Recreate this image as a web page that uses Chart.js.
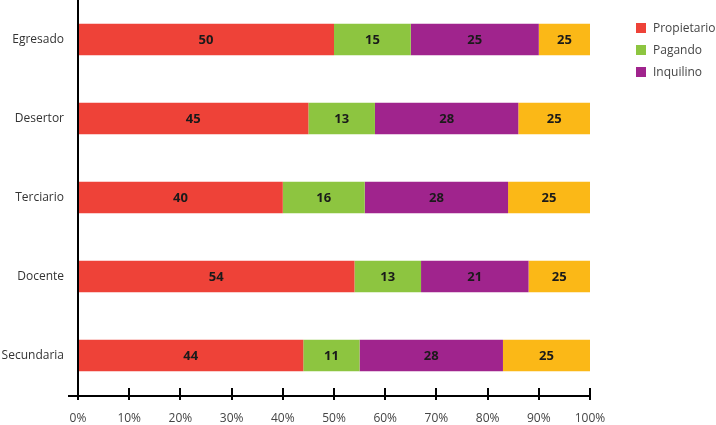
<!DOCTYPE html>
<html>
<head>
<meta charset="utf-8">
<script src="https://cdn.jsdelivr.net/npm/chart.js@4"></script>
<style>
  html, body { margin: 0; padding: 0; background: #fff; }
  #wrap { position: relative; width: 716px; height: 425px; }
  #legend { position: absolute; left: 636px; top: 21px; font-family: "Open Sans", sans-serif; font-size: 12px; color: #444; }
  #legend div { height: 22px; line-height: 14px; }
  #legend span.box { display: inline-block; width: 10px; height: 10px; margin-right: 7px; vertical-align: -1px; }
</style>
</head>
<body>
<div id="wrap">
  <canvas id="chart" width="716" height="425"></canvas>
  <div id="legend"></div>
</div>
<script>
const categories = ["Egresado", "Desertor", "Terciario", "Docente", "Secundaria"];
const propietario = [50, 45, 40, 54, 44];
const pagando = [15, 13, 16, 13, 11];
const inquilino = [25, 28, 28, 21, 28];
// the yellow piece fills the bar to 100% but is always labelled 25
const resto = [10, 14, 16, 12, 17];
const restoLabels = [25, 25, 25, 25, 25];
const xTicks = [0, 10, 20, 30, 40, 50, 60, 70, 80, 90, 100];

const series = [
    { label: "Propietario", data: propietario, text: propietario, color: "#EE4238", legend: true },
    { label: "Pagando", data: pagando, text: pagando, color: "#8DC540", legend: true },
    { label: "Inquilino", data: inquilino, text: inquilino, color: "#A0248D", legend: true },
    { label: "", data: resto, text: restoLabels, color: "#FBB817", legend: false }
];

const font = "'Open Sans', sans-serif";

// etiquetas dentro de las barras
const barLabels = {
    id: "barLabels",
    afterDatasetsDraw(chart) {
        const ctx = chart.ctx;
        ctx.save();
        ctx.font = "bold 13px " + font;
        ctx.fillStyle = "#1a1a1a";
        ctx.textAlign = "center";
        ctx.textBaseline = "middle";
        chart.data.datasets.forEach((ds, i) => {
            chart.getDatasetMeta(i).data.forEach((bar, j) => {
                const cx = (bar.x + bar.base) / 2;
                ctx.fillText(String(series[i].text[j]), cx, bar.y + 1);
            });
        });
        ctx.restore();
    }
};

// ejes negros con marcas que cruzan la línea
const axes = {
    id: "axes",
    afterDraw(chart) {
        const ctx = chart.ctx;
        const a = chart.chartArea;
        const x = chart.scales.x;
        ctx.save();
        ctx.strokeStyle = "#000";
        ctx.lineWidth = 2;
        ctx.beginPath();
        ctx.moveTo(a.left, 0);
        ctx.lineTo(a.left, a.bottom + 5);
        ctx.moveTo(a.left - 10, a.bottom + 1);
        ctx.lineTo(a.right, a.bottom + 1);
        xTicks.forEach(v => {
            const px = Math.round(x.getPixelForValue(v));
            ctx.moveTo(px, a.bottom - 7);
            ctx.lineTo(px, a.bottom + 5);
        });
        ctx.stroke();
        ctx.restore();
    }
};

const ctx = document.getElementById("chart").getContext("2d");
const chart = new Chart(ctx, {
    type: "bar",
    data: {
        labels: categories,
        datasets: series.map(s => ({
            label: s.label,
            data: s.data,
            backgroundColor: s.color,
            borderWidth: 0,
            barPercentage: 0.4,
            categoryPercentage: 1
        }))
    },
    options: {
        indexAxis: "y",
        responsive: false,
        animation: false,
        layout: { padding: { top: 0, right: 126, left: 0, bottom: 0 } },
        scales: {
            x: {
                stacked: true,
                min: 0,
                max: 100,
                afterBuildTicks: scale => { scale.ticks = xTicks.map(v => ({ value: v })); },
                afterFit: scale => { scale.height = 30; scale.paddingTop = 0; scale.paddingBottom = 0; },
                grid: { display: false, drawTicks: false },
                border: { display: false },
                ticks: {
                    padding: 16,
                    color: "#444",
                    font: { family: font, size: 12 },
                    maxRotation: 0,
                    callback: v => v + "%"
                }
            },
            y: {
                stacked: true,
                afterFit: scale => { scale.width = 78; scale.paddingTop = 0; scale.paddingBottom = 0; },
                grid: { display: false, drawTicks: false },
                border: { display: false },
                ticks: {
                    padding: 14,
                    color: "#333",
                    font: { family: font, size: 12 }
                }
            }
        },
        plugins: {
            legend: { display: false },
            tooltip: { enabled: false }
        }
    },
    plugins: [barLabels, axes]
});

// leyenda
const legendElem = document.getElementById("legend");
series.filter(s => s.legend).forEach(s => {
    const row = document.createElement("div");
    const box = document.createElement("span");
    box.className = "box";
    box.style.background = s.color;
    row.appendChild(box);
    row.appendChild(document.createTextNode(s.label));
    legendElem.appendChild(row);
});
</script>
</body>
</html>
